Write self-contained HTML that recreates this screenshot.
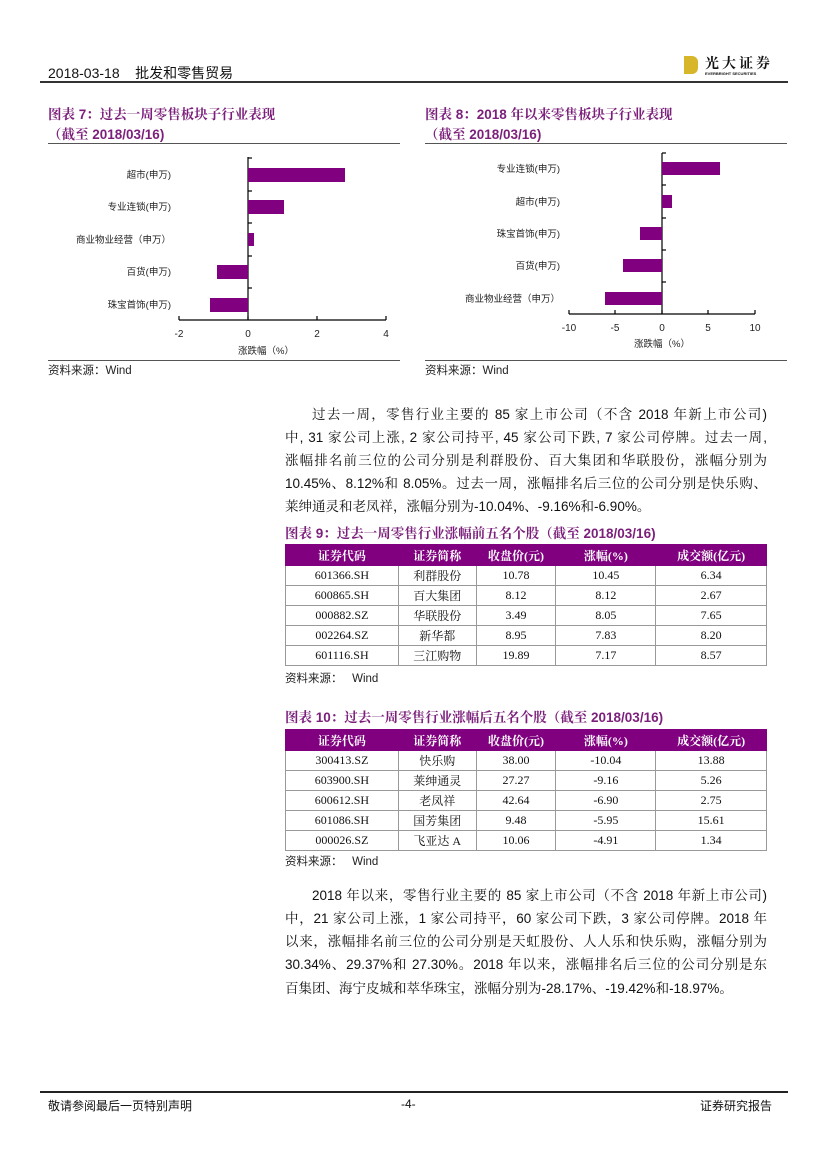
<!DOCTYPE html>
<html><head><meta charset="utf-8"><style>
body{margin:0;width:827px;height:1169px;background:#fff;position:relative;font-family:"Liberation Sans","Noto Sans CJK SC",sans-serif;color:#111;overflow:hidden}
.a{position:absolute;white-space:nowrap}
.t{color:#7b1f7b;font-weight:bold;font-size:13.5px;font-family:"Liberation Sans","Noto Serif CJK SC",serif}
.hl{position:absolute;height:1px;background:#555}
.p{position:absolute;left:285px;width:482px;font-size:13.5px;text-align:justify;text-align-last:justify;white-space:nowrap;font-family:"Liberation Sans","Noto Serif CJK SC",serif;color:#111}
table{position:absolute;left:285px;width:482px;border-collapse:collapse;font-family:"Liberation Serif","Noto Serif CJK SC",serif;font-size:12px}
td,th{border:1px solid #999;text-align:center;padding:0;height:19px}
th{background:#800080;color:#fff;font-weight:bold;font-size:12px;height:20px;border-color:#800080}
.src{font-size:11.5px;color:#222}
</style></head><body>
<div class="a" style="left:48px;top:63px;font-size:14px">2018-03-18&nbsp;&nbsp;&nbsp; 批发和零售贸易</div>
<div class="a" style="left:684px;top:56px;width:14px;height:18px;background:#d8b62a;border-radius:0 6px 6px 0"></div>
<div class="a" style="left:705px;top:53px;font-size:14px;font-weight:bold;font-family:'Noto Serif CJK SC',serif;letter-spacing:3px">光大证券</div>
<div class="a" style="left:705px;top:71px;font-size:4px;font-weight:bold">EVERBRIGHT SECURITIES</div>
<div class="hl" style="left:40px;top:81px;width:748px;height:2px;background:#333"></div>

<div class="a t" style="left:48px;top:103px">图表 7：过去一周零售板块子行业表现</div>
<div class="a t" style="left:48px;top:123px">（截至 2018/03/16)</div>
<div class="hl" style="left:48px;top:143px;width:352px"></div>
<div class="a t" style="left:425px;top:103px">图表 8：2018 年以来零售板块子行业表现</div>
<div class="a t" style="left:425px;top:123px">（截至 2018/03/16)</div>
<div class="hl" style="left:425px;top:143px;width:362px"></div>

<svg class="a" style="left:0;top:0" width="827" height="400" font-family="Liberation Sans,Noto Sans CJK SC,sans-serif" font-size="9.5" fill="#222">
<g stroke="#000" stroke-width="1.2">
<line x1="248" y1="157" x2="248" y2="320"/><line x1="179" y1="320" x2="386" y2="320"/>
<line x1="179" y1="316" x2="179" y2="320"/><line x1="248" y1="316" x2="248" y2="320"/><line x1="317" y1="316" x2="317" y2="320"/><line x1="386" y1="316" x2="386" y2="320"/>
<line x1="248" y1="158" x2="252" y2="158"/><line x1="248" y1="191" x2="252" y2="191"/><line x1="248" y1="223" x2="252" y2="223"/><line x1="248" y1="256" x2="252" y2="256"/><line x1="248" y1="288" x2="252" y2="288"/>
</g>
<g fill="#800080"><rect x="248" y="168" width="97" height="14"/><rect x="248" y="200" width="36" height="14"/><rect x="248" y="233" width="6" height="13"/><rect x="217" y="265" width="31" height="14"/><rect x="210" y="298" width="38" height="14"/></g>
<g text-anchor="end"><text x="171" y="178">超市(申万)</text><text x="171" y="210">专业连锁(申万)</text><text x="171" y="243">商业物业经营（申万）</text><text x="171" y="275">百货(申万)</text><text x="171" y="308">珠宝首饰(申万)</text></g>
<g text-anchor="middle" font-size="10"><text x="179" y="337">-2</text><text x="248" y="337">0</text><text x="317" y="337">2</text><text x="386" y="337">4</text><text x="266" y="354" font-size="9.5">涨跌幅（%）</text></g>
<g stroke="#000" stroke-width="1.2">
<line x1="662" y1="153" x2="662" y2="314"/><line x1="569" y1="314" x2="755" y2="314"/>
<line x1="569" y1="310" x2="569" y2="314"/><line x1="615" y1="310" x2="615" y2="314"/><line x1="662" y1="310" x2="662" y2="314"/><line x1="708" y1="310" x2="708" y2="314"/><line x1="755" y1="310" x2="755" y2="314"/>
<line x1="662" y1="153" x2="666" y2="153"/><line x1="662" y1="185" x2="666" y2="185"/><line x1="662" y1="218" x2="666" y2="218"/><line x1="662" y1="250" x2="666" y2="250"/><line x1="662" y1="282" x2="666" y2="282"/>
</g>
<g fill="#800080"><rect x="662" y="162" width="58" height="13"/><rect x="662" y="195" width="10" height="13"/><rect x="640" y="227" width="22" height="13"/><rect x="623" y="259" width="39" height="13"/><rect x="605" y="292" width="57" height="13"/></g>
<g text-anchor="end"><text x="560" y="172">专业连锁(申万)</text><text x="560" y="205">超市(申万)</text><text x="560" y="237">珠宝首饰(申万)</text><text x="560" y="269">百货(申万)</text><text x="560" y="302">商业物业经营（申万）</text></g>
<g text-anchor="middle" font-size="10"><text x="569" y="331">-10</text><text x="615" y="331">-5</text><text x="662" y="331">0</text><text x="708" y="331">5</text><text x="755" y="331">10</text><text x="662" y="347" font-size="9.5">涨跌幅（%）</text></g>
</svg>
<div class="hl" style="left:48px;top:360px;width:352px"></div>
<div class="hl" style="left:425px;top:360px;width:362px"></div>
<div class="a src" style="left:48px;top:362px">资料来源：Wind</div>
<div class="a src" style="left:425px;top:362px">资料来源：Wind</div>

<div class="p" style="top:403px;left:312px;width:455px">过去一周，零售行业主要的 85 家上市公司（不含 2018 年新上市公司)</div>
<div class="p" style="top:426px">中, 31 家公司上涨, 2 家公司持平, 45 家公司下跌, 7 家公司停牌。过去一周,</div>
<div class="p" style="top:449px">涨幅排名前三位的公司分别是利群股份、百大集团和华联股份，涨幅分别为</div>
<div class="p" style="top:472px">10.45%、8.12%和 8.05%。过去一周，涨幅排名后三位的公司分别是快乐购、</div>
<div class="p" style="top:495px;text-align-last:left">莱绅通灵和老凤祥，涨幅分别为-10.04%、-9.16%和-6.90%。</div>

<div class="a t" style="left:285px;top:522px">图表 9：过去一周零售行业涨幅前五名个股（截至 2018/03/16)</div>
<table style="top:544px">
<colgroup><col style="width:113px"><col style="width:78px"><col style="width:80px"><col style="width:100px"><col style="width:111px"></colgroup>
<tr><th>证券代码</th><th>证券简称</th><th>收盘价(元)</th><th>涨幅(%)</th><th>成交额(亿元)</th></tr>
<tr><td>601366.SH</td><td>利群股份</td><td>10.78</td><td>10.45</td><td>6.34</td></tr>
<tr><td>600865.SH</td><td>百大集团</td><td>8.12</td><td>8.12</td><td>2.67</td></tr>
<tr><td>000882.SZ</td><td>华联股份</td><td>3.49</td><td>8.05</td><td>7.65</td></tr>
<tr><td>002264.SZ</td><td>新华都</td><td>8.95</td><td>7.83</td><td>8.20</td></tr>
<tr><td>601116.SH</td><td>三江购物</td><td>19.89</td><td>7.17</td><td>8.57</td></tr>
</table>
<div class="a src" style="left:285px;top:670px">资料来源：&nbsp;&nbsp; Wind</div>

<div class="a t" style="left:285px;top:706px">图表 10：过去一周零售行业涨幅后五名个股（截至 2018/03/16)</div>
<table style="top:729px">
<colgroup><col style="width:113px"><col style="width:78px"><col style="width:80px"><col style="width:100px"><col style="width:111px"></colgroup>
<tr><th>证券代码</th><th>证券简称</th><th>收盘价(元)</th><th>涨幅(%)</th><th>成交额(亿元)</th></tr>
<tr><td>300413.SZ</td><td>快乐购</td><td>38.00</td><td>-10.04</td><td>13.88</td></tr>
<tr><td>603900.SH</td><td>莱绅通灵</td><td>27.27</td><td>-9.16</td><td>5.26</td></tr>
<tr><td>600612.SH</td><td>老凤祥</td><td>42.64</td><td>-6.90</td><td>2.75</td></tr>
<tr><td>601086.SH</td><td>国芳集团</td><td>9.48</td><td>-5.95</td><td>15.61</td></tr>
<tr><td>000026.SZ</td><td>飞亚达 A</td><td>10.06</td><td>-4.91</td><td>1.34</td></tr>
</table>
<div class="a src" style="left:285px;top:853px">资料来源：&nbsp;&nbsp; Wind</div>

<div class="p" style="top:884px;left:312px;width:455px">2018 年以来，零售行业主要的 85 家上市公司（不含 2018 年新上市公司)</div>
<div class="p" style="top:907px">中，21 家公司上涨，1 家公司持平，60 家公司下跌，3 家公司停牌。2018 年</div>
<div class="p" style="top:930px">以来，涨幅排名前三位的公司分别是天虹股份、人人乐和快乐购，涨幅分别为</div>
<div class="p" style="top:953px">30.34%、29.37%和 27.30%。2018 年以来，涨幅排名后三位的公司分别是东</div>
<div class="p" style="top:977px;text-align-last:left">百集团、海宁皮城和萃华珠宝，涨幅分别为-28.17%、-19.42%和-18.97%。</div>

<div class="hl" style="left:40px;top:1091px;width:748px;height:1.5px;background:#222"></div>
<div class="a" style="left:48px;top:1097px;font-size:12px">敬请参阅最后一页特别声明</div>
<div class="a" style="left:401px;top:1097px;font-size:12px">-4-</div>
<div class="a" style="left:700px;top:1097px;font-size:12px">证券研究报告</div>
</body></html>
